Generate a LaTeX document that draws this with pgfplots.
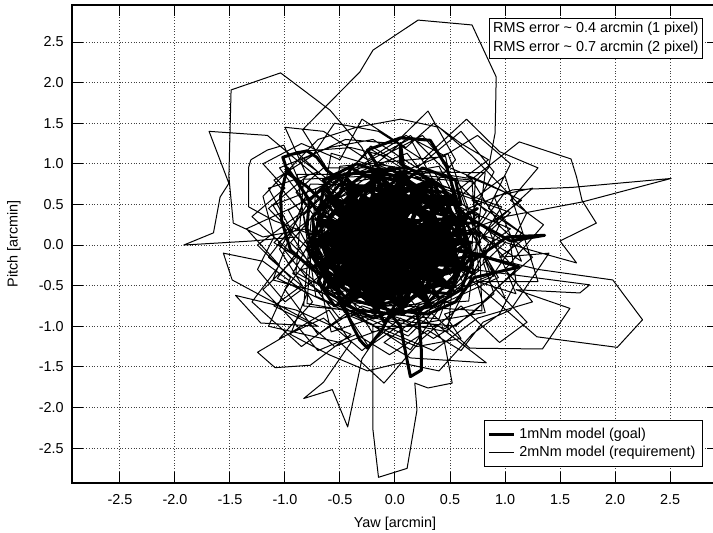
\documentclass[border=0pt]{standalone}
\usepackage{fontspec}
\setmainfont{Liberation Sans}
\usepackage{pgfplots}
\pgfplotsset{compat=1.18}
\begin{document}
\begin{tikzpicture}
\begin{axis}[
  name=main,
  at={(0,0)}, anchor=south west,
  scale only axis,
  width=323pt, height=239pt,
  xmin=-2.936, xmax=2.936,
  ymin=-2.93, ymax=2.956,
  xtick={-2.5,-2,-1.5,-1,-0.5,0,0.5,1,1.5,2,2.5},
  ytick={-2.5,-2,-1.5,-1,-0.5,0,0.5,1,1.5,2,2.5},
  /pgf/number format/.cd, fixed, fixed zerofill, precision=1, assume math mode=true,
  /pgfplots/.cd,
  tick label style={font=\fontsize{7.2}{8.6}\selectfont},
  xticklabel style={yshift=-2.4pt},
  yticklabel style={xshift=-0.6pt},
  major tick length=5.5pt,
  tick style={black, line width=0.5pt},
  tick align=inside,
  axis line style={line width=0.8pt},
  grid=major,
  major grid style={densely dotted, black!75, line width=0.5pt},
  xlabel={Yaw [arcmin]},
  ylabel={Pitch [arcmin]},
  every axis x label/.style={at={(axis description cs:0.5,-0.0847)}, anchor=center, font=\fontsize{7.2}{8.6}\selectfont},
  every axis y label/.style={at={(axis description cs:-0.0898,0.5)}, rotate=90, anchor=center, font=\fontsize{7.2}{8.6}\selectfont},
  legend style={at={(axis description cs:1,0)}, anchor=south east, xshift=-7.5pt, yshift=8pt,
    font=\fontsize{7.2}{8.6}\selectfont, draw=black, line width=0.5pt, inner sep=1.5pt, row sep=-1.5pt,
    cells={anchor=west}},
  legend image code/.code={\draw[#1] (0pt,0pt) -- (12.5pt,0pt);},
]
% 1mNm model (goal) -- thick
\addplot[black, line width=1.5pt, line join=round] coordinates {
(-0.15,0.05) (-0.55,0.40) (-0.80,0.72) (-0.97,0.88) (-1.02,1.08) (-0.93,1.12) (-0.80,1.16) (-0.71,1.08) (-0.62,0.92) (-0.40,0.70)
(-0.10,0.45) (0.25,0.20) (0.55,-0.10) (0.40,-0.45) (0.10,-0.70) (-0.30,-0.60) (-0.60,-0.25) (-0.70,0.15) (-0.45,0.55) (-0.10,0.85)
(-0.25,1.17) (0.05,1.32) (0.32,1.29) (0.47,0.96) (0.55,0.60) (0.62,0.25) (0.70,-0.15) (0.45,-0.50) (0.20,-0.85) (0.22,-0.95)
(0.24,-1.30) (0.24,-1.54) (0.14,-1.62) (0.10,-1.35) (0.05,-1.00) (-0.10,-0.75) (-0.45,-0.55) (-0.75,-0.30) (-0.95,-0.06) (-1.03,0.30)
(-1.04,0.60) (-0.98,0.95) (-0.70,0.40) (-0.35,0.15) (0.00,-0.20) (0.35,-0.40) (0.60,-0.30) (0.50,0.10) (0.20,0.45) (-0.15,0.70)
(-0.50,0.75) (-0.70,0.45) (-0.65,0.00) (-0.50,-0.40) (-0.20,-0.75) (0.15,-0.65) (0.45,-0.30) (0.60,0.15) (0.45,0.55) (0.10,0.80)
(-0.30,0.85) (-0.60,0.55) (-0.75,0.10) (-0.60,-0.35) (-0.38,-1.01) (-0.32,-1.17) (-0.25,-1.27) (-0.12,-1.05) (0.05,-0.60) (0.30,-0.20)
(0.40,0.25) (0.25,0.65) (-0.05,0.95) (-0.40,0.60) (-0.55,0.20) (-0.40,-0.20) (-0.10,-0.45) (0.25,-0.55) (0.55,-0.45) (0.68,0.00)
(0.50,0.40) (0.20,0.70) (-0.20,0.60) (-0.45,0.30) (-0.30,-0.10) (0.00,-0.35) (0.35,-0.10) (0.30,0.35) (0.00,0.50) (-0.30,0.40)
(-0.35,0.00) (-0.10,-0.20) (0.15,0.05) (0.05,0.30) (-0.20,0.20) (-0.60,-0.10) (-0.65,-0.55) (-0.35,-0.80) (0.00,-0.85) (0.35,-0.75)
(0.60,-0.55) (0.70,-0.20) (1.02,0.10) (1.36,0.12) (1.05,0.05) (0.65,0.35) (0.40,0.75) (0.05,1.00) (0.05,1.25) (0.08,0.95)
(-0.25,0.90) (-0.55,0.85) (-0.78,0.55) (-0.80,0.20) (-0.72,-0.20) (-0.45,-0.65) (-0.05,-0.80) (0.30,-0.85) (0.55,-0.70) (0.72,-0.40)
(1.13,-0.27) (0.70,-0.10) (0.40,0.00) (0.10,0.20) (-0.25,0.35) (-0.55,0.50) (-0.40,0.95) (-0.05,0.70) (0.30,0.50) (0.60,0.50)
(0.55,0.80) (0.25,0.95) (-0.10,0.60) (-0.45,0.10) (-0.70,-0.45) (-0.55,-0.75) (-0.20,-0.55) (0.10,-0.30) (0.45,-0.05) (0.62,0.35)
(0.35,0.10) (0.05,-0.10) (-0.25,-0.30) (-0.50,-0.05) (-0.60,0.35) (-0.35,0.70) (0.00,0.65) (0.35,0.80) (0.50,0.20) (0.25,-0.25)
(-0.05,-0.60) (-0.40,-0.45) (-0.75,-0.10) (-0.65,0.70) (-0.30,0.25) (0.05,0.05) (0.40,-0.65) (0.15,-0.40) (-0.15,-0.15) (-0.45,0.45)
(-0.20,0.80) (0.15,0.55) (0.45,0.15) (0.30,-0.50) (-0.10,-0.95) (-0.30,-0.35) (-0.55,-0.55) (-0.80,-0.05) (-0.50,0.30) (-0.10,0.35)
(0.20,0.30) (0.55,-0.20) (0.20,-0.10) (-0.15,0.10) (-0.40,-0.25) (-0.25,-0.65) (0.10,-0.55) (0.50,-0.60) (0.65,-0.05) (0.40,0.45)
(0.00,0.85) (-0.35,1.00) (-0.65,0.80) (-0.50,0.40) (-0.20,0.45) (0.10,0.70) (0.45,0.65) (0.60,0.05) (0.30,-0.30) (-0.05,-0.35)
(-0.35,-0.55) (-0.70,-0.25) (-0.75,0.35) (-0.45,0.70) (-0.15,0.25) (0.15,-0.20) (0.50,-0.35) (0.35,0.25) (0.00,0.15) (-0.25,-0.05)
(-0.55,0.10) (-0.30,0.55) (0.05,0.40) (0.25,0.05) (0.10,-0.75) (-0.20,-0.90) (-0.50,-0.70) (-0.15,-0.25) (0.20,0.15)
(0.70,0.03) (-0.65,0.03) (0.62,0.32) (-0.45,-0.37) (0.29,0.73) (-0.28,-0.44) (0.08,0.91) (0.06,-0.72) (-0.15,0.74) (0.31,-0.71)
(-0.45,0.43) (0.47,-0.49) (-0.47,0.21) (0.66,-0.28) (-0.69,0.03) (0.50,0.58) (-0.51,-0.43) (0.04,0.65) (-0.17,-0.76) (-0.28,0.50)
(0.33,-0.75) (-0.65,0.29) (0.66,0.03) (-0.61,-0.21) (0.21,0.58) (-0.39,-0.67) (-0.13,0.56) (0.08,-0.85) (-0.54,0.52) (0.62,-0.26)
(-0.54,-0.18) (0.58,0.31) (-0.50,0.03) (0.53,-0.55) (-0.37,0.70) (-0.17,-0.81) (0.41,0.49) (-0.57,-0.49) (0.07,0.82) (0.03,-0.50)
(-0.63,0.61) (0.59,0.03) (-0.72,0.32) (0.25,-0.60) (-0.14,0.65) (-0.43,-0.75) (0.18,0.50) (-0.76,-0.28) (0.55,0.29) (-0.76,0.03)
(0.51,-0.21) (-0.31,0.58) (0.07,-0.76) (0.30,0.38) (-0.63,-0.55) (0.06,0.78) (-0.15,-0.68) (-0.41,0.77) (0.36,-0.37) (-0.68,0.31)
(0.40,0.03) (-0.80,0.03) (0.44,0.52) (-0.35,-0.60) (-0.17,0.87) (0.21,-0.52) (-0.57,0.55) (0.37,-0.15) (-0.65,-0.23) (0.33,0.81)
(-0.14,-0.59) (0.37,0.21) (-0.54,-0.46) (0.07,0.87) (0.04,-0.59) (-0.61,0.27) (0.44,-0.46) (-0.43,0.81) (-0.18,-0.85) (0.25,0.66)
(-0.47,-0.15) (0.63,0.03) (-0.51,0.49) (0.27,-0.64) (-0.18,0.91) (-0.31,-0.52) (0.53,0.61) (-0.58,0.03) (0.59,-0.25) (-0.40,0.38)
(0.07,-0.81) (0.03,0.56) (-0.60,-0.52) (0.66,0.34) (-0.54,0.24) (0.30,-0.32) (-0.39,0.73) (-0.13,-0.50) (0.31,0.77) (-0.68,-0.25)
(0.51,0.03) (-0.18,0.91) (-0.51,-0.17) (0.27,-0.64) (0.50,0.58) (-0.45,0.43) (-0.39,-0.67) (0.48,-0.20) (0.08,0.91) (-0.54,0.03)
(0.06,-0.72) (0.62,0.32) (-0.31,0.58) (-0.57,-0.49) (0.38,-0.40) (0.33,0.81) (-0.51,0.23) (-0.16,-0.72) (0.66,0.03) (-0.14,0.65)
(-0.68,-0.25) (0.23,-0.56) (0.53,0.61) (-0.43,0.40) (-0.37,-0.64) (0.62,-0.26) (0.04,0.65) (-0.73,0.03) (0.05,-0.63) (0.66,0.34)
(0.03,-0.54) (-0.69,0.03) (0.07,0.87) (0.44,-0.18) (-0.39,-0.67) (-0.48,0.46) (0.53,0.61) (0.19,-0.48) (-0.65,-0.23) (-0.17,0.87)
(0.48,0.03) (-0.17,-0.76) (-0.58,0.26) (0.33,0.81) (0.33,-0.34) (-0.54,-0.46) (-0.41,0.77) (0.44,0.24) (0.07,-0.76) (-0.61,0.03)
(0.78,0.15) (-0.30,0.10) (0.80,-0.12) (-0.20,-0.30) (0.75,0.45) (0.10,0.00) (0.72,-0.35) (-0.40,0.15) (0.76,0.28)
};
\addlegendentry{1mNm model (goal)}
% 2mNm model (requirement) -- thin
\addplot[black, line width=0.5pt, line join=round] coordinates {
(0.00,0.00) (-0.30,0.40) (-0.60,0.90) (-0.84,1.42) (-0.32,2.13) (-0.20,2.40) (0.21,2.77) (0.70,2.71) (0.92,2.07) (0.91,1.38)
(0.85,0.95) (0.60,0.60) (0.20,0.30) (-0.40,0.20) (-0.80,0.55) (-1.01,1.23) (-1.16,1.17) (-1.31,1.05) (-1.33,0.96) (-1.33,0.47)
(-1.10,0.30) (-0.70,0.10) (-0.20,-0.30) (0.30,0.10) (-0.10,0.60) (-0.30,1.20) (-0.59,1.66) (-1.04,2.12) (-1.49,1.91) (-1.51,0.84)
(-1.47,0.27) (-1.20,0.10) (-0.80,0.20) (-0.40,-0.10) (0.10,-0.30) (-0.50,0.60) (-1.16,1.35) (-1.69,1.40) (-1.51,0.76) (-1.59,0.59)
(-1.65,0.15) (-1.92,0.00) (-1.30,0.05) (-0.90,0.10) (-0.50,-0.40) (0.40,0.30) (1.07,0.68) (1.61,0.71) (2.51,0.82) (1.70,0.53)
(1.00,0.35) (0.30,0.00) (0.50,-0.20) (1.29,-1.13) (2.02,-1.26) (2.25,-0.92) (1.98,-0.43) (1.30,-0.30) (0.70,-0.10) (0.50,0.60)
(1.13,1.27) (1.60,1.06) (1.65,0.84) (1.70,0.55) (1.83,0.27) (1.50,0.05) (1.65,-0.22) (1.20,-0.05) (0.60,0.20) (0.70,-0.30)
(1.77,-0.49) (1.68,-0.59) (1.10,-0.55) (1.59,-0.78) (1.34,-1.28) (0.68,-1.27) (0.30,-0.80) (-0.10,-1.20) (0.14,-1.39) (0.83,-1.45)
(0.40,-1.00) (-0.20,-1.00) (-0.20,-2.28) (-0.15,-2.86) (0.11,-2.75) (0.20,-2.03) (0.18,-1.70) (0.30,-1.76) (0.52,-1.70) (0.45,-1.20)
(0.10,-0.60) (-0.30,-1.40) (-0.43,-2.24) (-0.57,-1.78) (-0.83,-1.89) (-0.65,-1.69) (-0.40,-1.20) (-0.60,-0.80) (-1.25,-1.32) (-1.09,-1.51)
(-0.77,-1.48) (-0.40,-1.10) (-0.90,-0.80) (-1.45,-0.62) (-1.22,-0.96) (-0.70,-1.00) (-1.48,-0.43) (-1.56,-0.10) (-1.20,-0.20) (-0.80,-0.60)
(-0.95,-1.10) (-0.60,-1.35) (-0.25,-1.55) (0.05,-1.45) (0.40,-1.55) (0.70,-1.10) (0.95,-0.85) (1.10,-0.45) (1.05,0.00) (1.20,0.40)
(0.95,0.75) (0.70,1.10) (0.40,1.45) (0.05,1.55) (-0.35,1.45) (-0.70,1.30) (-0.95,0.95) (-1.20,0.60) (-1.10,0.10) (-1.25,-0.30)
(-1.00,-0.70) (-0.70,-0.40) (-0.30,0.10) (0.20,0.50) (0.55,1.05) (0.30,1.65) (0.00,1.25) (-0.45,1.30) (-0.85,1.05) (-0.55,0.75)
(-0.95,0.45) (-1.35,0.20) (-1.05,-0.25) (-1.30,-0.70) (-0.85,-1.25) (-0.45,-0.85) (0.00,-1.10) (0.35,-1.30) (0.75,-0.90) (1.25,-0.70)
(1.00,-0.30) (1.35,0.25) (1.05,0.55) (1.30,0.95) (0.95,1.15) (0.65,1.55) (0.25,1.05) (-0.15,1.40) (-0.55,1.50) (-0.75,1.10)
(-1.10,0.80) (-0.85,0.40) (-1.25,0.00) (-0.95,-0.40) (-1.15,-1.00) (-0.50,-1.20) (-0.10,-1.70) (0.25,-1.15) (0.60,-0.75) (0.95,-1.20)
(1.20,-0.95) (0.85,-0.45) (1.15,0.15) (0.85,0.45) (1.05,1.00) (0.75,1.35) (0.45,1.10) (0.10,1.35) (-0.25,1.05) (-0.65,1.40)
(-1.00,1.45) (-0.80,0.85) (-1.15,0.45) (-0.75,-0.10) (-1.00,-0.55) (-0.70,-1.10) (-0.30,-0.75) (0.15,-0.95) (0.55,-1.00) (0.90,-0.60)
(0.80,-0.20) (0.95,0.25) (0.70,0.80) (0.30,0.85) (-0.20,0.95) (-0.65,0.95) (-0.90,0.65) (-0.70,0.30) (-0.50,-0.20) (-0.85,-0.30)
(-0.60,-0.60) (-0.20,-0.50) (0.25,-0.45) (0.65,-0.55) (0.45,0.00) (0.75,0.35) (0.35,0.65) (-0.05,0.80) (-0.45,0.45) (-0.15,0.05)
(0.20,-0.20) (0.00,0.35) (-0.35,-0.20) (0.10,0.10)
(0.78,0.03) (0.48,1.13) (-0.57,0.55) (-0.93,-0.35) (0.14,-1.29) (0.66,-0.28) (0.46,1.09) (-0.50,0.97) (-0.72,-0.26) (-0.24,-1.25)
(0.76,-0.32) (0.70,0.78) (-0.46,0.89) (-1.10,0.03) (-0.17,-0.76) (0.67,-0.69) (0.82,0.89) (-0.18,0.91) (-1.06,0.03) (-0.50,-0.91)
(0.50,-0.52) (0.97,0.47) (-0.20,1.04) (-0.97,0.43) (-0.46,-0.83) (0.48,-1.07) (0.58,0.31) (0.11,1.13) (-1.11,0.49) (-0.63,-0.55)
(0.46,-1.03) (0.85,0.03) (0.07,0.87) (-0.89,0.87) (-0.72,-0.63) (0.12,-1.12) (1.00,0.03) (0.29,0.73) (-0.77,0.75) (-1.11,-0.43)
(0.08,-0.85) (0.90,-0.38) (0.40,0.97) (-0.41,0.77) (-1.07,-0.41) (-0.20,-0.98) (0.87,-0.37) (0.59,0.66) (-0.58,1.13) (-0.73,0.03)
(-0.21,-1.07) (0.82,-0.83) (0.53,0.61) (-0.22,1.22) (-0.95,0.03) (-0.41,-0.71) (0.79,-0.81) (0.76,0.38) (-0.22,1.18) (-0.83,0.37)
(-0.58,-1.07) (0.29,-0.68) (0.83,0.41) (0.14,1.35) (-0.76,0.34) (-0.83,-0.75) (0.40,-0.91) (0.66,0.03) (0.14,1.31) (-0.72,0.69)
(-0.80,-0.72) (0.09,-0.94) (0.94,-0.40) (0.36,0.89) (-0.83,0.81) (-0.90,-0.34) (0.11,-1.07) (0.69,-0.29) (0.73,0.81) (-0.19,1.00)
(1.05,0.40) (0.80,0.10) (1.15,-0.20) (0.90,0.60) (1.25,0.70) (0.85,0.20) (1.10,-0.60) (0.75,-0.45) (1.30,-0.45) (1.00,0.85)
(0.70,0.55) (1.20,0.10) (0.95,-0.15) (1.40,-0.10) (1.05,-0.80) (0.80,-0.95) (0.60,-1.30) (0.30,-1.05) (-0.05,-1.35) (-0.35,-1.10)
(-0.70,-1.30) (-0.95,-0.90) (-1.20,-0.55) (-0.90,-0.15) (-1.30,0.35) (-1.00,0.70) (-1.20,1.00) (-0.85,1.25) (-0.50,1.05) (-0.30,1.55)
(0.10,1.20) (0.35,1.50) (0.60,1.25) (0.85,1.05) (0.65,0.85) (1.00,0.65) (0.75,0.20) (1.10,-0.30) (0.80,-0.70) (0.45,-0.85)
(0.60,-1.15) (0.20,-1.25) (-0.15,-1.05) (-0.55,-1.25) (-0.80,-0.95) (-1.10,-0.75) (-0.85,-0.50) (-1.15,-0.15) (-0.95,0.20) (-1.15,0.70)
(-0.70,0.90) (-0.90,1.15) (-0.40,1.20) (-0.10,1.10) (0.25,1.35) (0.50,0.95) (0.85,0.75) (1.15,0.55) (0.90,0.30) (1.25,-0.15)
(0.95,-0.50) (0.70,-0.85) (0.35,-1.15) (0.05,-0.90) (-0.30,-1.30) (-0.65,-0.90) (-1.05,-1.15) (-0.75,-0.70) (-1.05,-0.05) (-0.80,0.50)
(-1.05,0.95) (-0.60,1.20) (-0.20,1.30) (0.20,0.95) (0.60,1.40) (0.90,0.90) (0.70,0.40) (1.05,0.20) (0.80,-0.05) (1.00,-0.65)
};
\addlegendentry{2mNm model (requirement)}
\node[draw=black, line width=0.5pt, fill=white, anchor=north east, align=left,
  font=\fontsize{7.2}{9.2}\selectfont, inner sep=2pt]
  at ([xshift=-7.5pt, yshift=-6.5pt]axis description cs:1,1)
  {RMS error \textasciitilde\ 0.4 arcmin (1 pixel)\\RMS error \textasciitilde\ 0.7 arcmin (2 pixel)};
\end{axis}
\pgfresetboundingbox
\useasboundingbox (-36pt,-25pt) rectangle (320.5pt,241.5pt);
\end{tikzpicture}
\end{document}
